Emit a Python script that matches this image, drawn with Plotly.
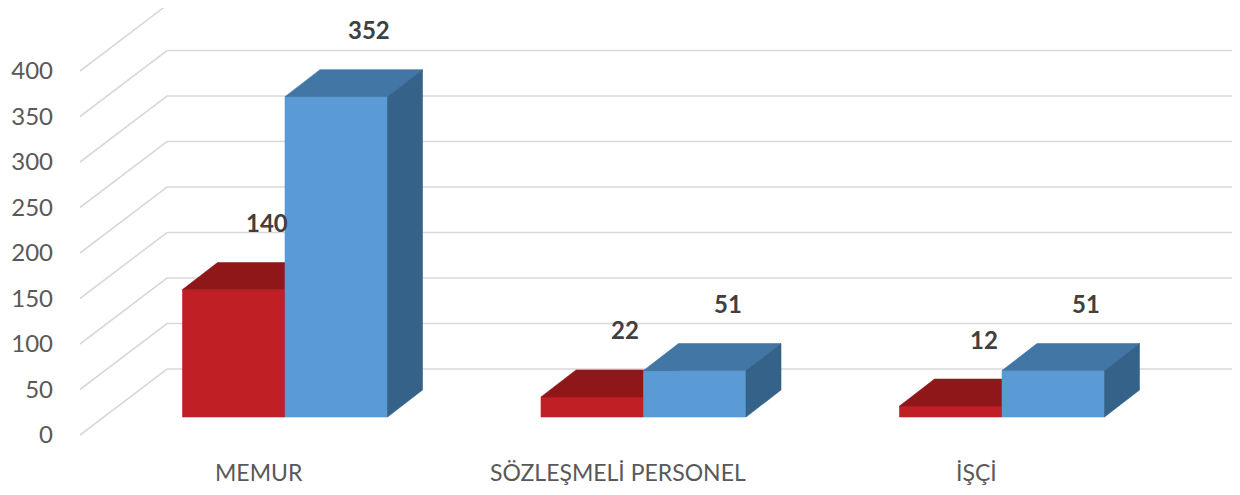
import plotly.graph_objects as go

# ---------------- data ----------------
categories = ["MEMUR", "SÖZLEŞMELİ PERSONEL", "İŞÇİ"]
series_red = [140, 22, 12]
series_blue = [352, 51, 51]
y_ticks = [0, 50, 100, 150, 200, 250, 300, 350, 400]

# ---------------- geometry ----------------
PAGE_W, PAGE_H = 1240, 495
OFF = 8                      # default body margin of the html page
W, H = PAGE_W - OFF, PAGE_H - OFF
L = 46                       # left margin (px, inside figure)
PX_PER_CAT = 358.5           # px per category step
PX_PER_VAL = 0.91            # px per value unit
X_ORIGIN_PX = 285            # page px of category 0 centre
Y_ORIGIN_PX = 435            # page px of value 0 at front

BAR_W = 102.5 / PX_PER_CAT
BAR_DX = 35 / PX_PER_CAT
BAR_DY = 27 / PX_PER_VAL
BASE = 18 / PX_PER_VAL
WALL_DX = 87 / PX_PER_CAT
WALL_DY = 66 / PX_PER_VAL
WALL_X0 = (80 - X_ORIGIN_PX) / PX_PER_CAT

x_range = [(OFF + L - X_ORIGIN_PX) / PX_PER_CAT, (PAGE_W - X_ORIGIN_PX) / PX_PER_CAT]
y_range = [(Y_ORIGIN_PX - PAGE_H) / PX_PER_VAL, (Y_ORIGIN_PX - OFF) / PX_PER_VAL]

GRID = "#D9D9D9"
RED = dict(front="#C01F26", top="#901719", side="#7A1416")
BLUE = dict(front="#5B9BD5", top="#4176A5", side="#356288")

fig = go.Figure()


def poly(xs, ys, color):
    fig.add_trace(go.Scatter(
        x=xs + [xs[0]], y=ys + [ys[0]], mode="lines", fill="toself",
        fillcolor=color, line=dict(color=color, width=0.6),
        hoverinfo="skip", showlegend=False))


# gridlines: side wall diagonals + back wall horizontals
for v in y_ticks:
    fig.add_trace(go.Scatter(
        x=[WALL_X0, WALL_X0 + WALL_DX, x_range[1]],
        y=[v, v + WALL_DY, v + WALL_DY],
        mode="lines", line=dict(color=GRID, width=1.6),
        hoverinfo="skip", showlegend=False))


def bar(i, v, offset, col):
    xl = i + offset * BAR_W
    xr = xl + BAR_W
    y0, y1 = BASE, BASE + v
    poly([xl, xr, xr, xl], [y0, y0, y1, y1], col["front"])
    poly([xl, xr, xr + BAR_DX, xl + BAR_DX],
         [y1, y1, y1 + BAR_DY, y1 + BAR_DY], col["top"])
    poly([xr, xr + BAR_DX, xr + BAR_DX, xr],
         [y0, y0 + BAR_DY, y1 + BAR_DY, y1], col["side"])


annotations = []
for i, cat in enumerate(categories):
    bar(i, series_red[i], -1, RED)
    bar(i, series_blue[i], 0, BLUE)
    for v, offset in ((series_red[i], -1), (series_blue[i], 0)):
        annotations.append(dict(
            x=i + offset * BAR_W + BAR_W / 2 + 33 / PX_PER_CAT,
            y=BASE + v + 67 / PX_PER_VAL,
            text=f"<b>{v}</b>", showarrow=False,
            font=dict(family="Lato", size=24, color="#404040")))
    annotations.append(dict(
        x=i - 26 / PX_PER_CAT, y=-37 / PX_PER_VAL, text=cat, showarrow=False,
        font=dict(family="Lato", size=23, color="#595959")))

fig.update_layout(
    width=W, height=H,
    margin=dict(l=L, r=0, t=0, b=0),
    paper_bgcolor="white", plot_bgcolor="white",
    xaxis=dict(range=x_range, visible=False, fixedrange=True),
    yaxis=dict(range=y_range, tickvals=y_ticks, showgrid=False,
               zeroline=False, showline=False, ticks="",
               tickfont=dict(family="Lato", size=24, color="#595959"),
               fixedrange=True),
    annotations=annotations,
    showlegend=False,
)

fig.write_html("out.html")
